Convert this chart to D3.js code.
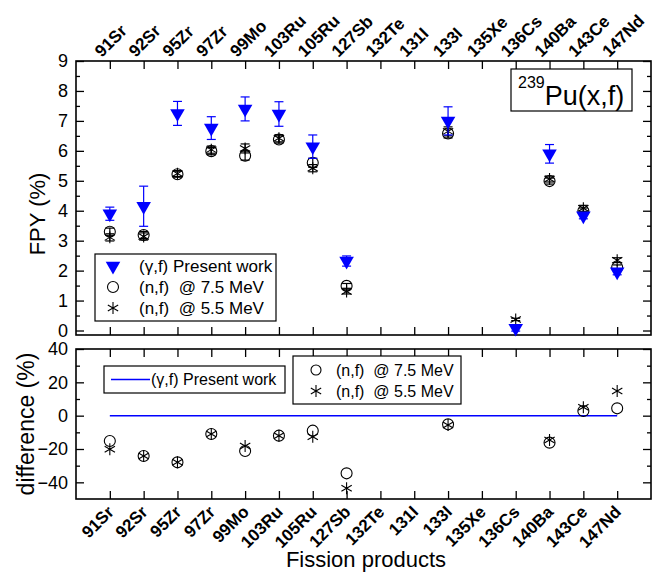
<!DOCTYPE html>
<html>
<head>
<meta charset="utf-8">
<script src="https://cdn.jsdelivr.net/npm/d3@7"></script>
<style>
  body { margin: 0; background: #fff; }
  svg { font-family: "Liberation Sans", Arial, sans-serif; }
</style>
</head>
<body>
<script>
// fission products on the x axis
var categories = ['91Sr', '92Sr', '95Zr', '97Zr', '99Mo', '103Ru', '105Ru', '127Sb',
  '132Te', '131I', '133I', '135Xe', '136Cs', '140Ba', '143Ce', '147Nd'];

// (gamma,f) present work, FPY (%) and error
var gammaFPY = [3.9, 4.15, 7.25, 6.76, 7.4, 7.23, 6.14, 2.32, null, null, 7.0, null, 0.08, 5.9, 3.83, 1.96];
var gammaErr = [0.22, 0.67, 0.4, 0.38, 0.4, 0.41, 0.39, 0.17, null, null, 0.47, null, 0.1, 0.31, 0.1, 0.1];

// (n,f) @ 7.5 MeV
var n75FPY = [3.3, 3.19, 5.22, 5.99, 5.84, 6.38, 5.6, 1.49, null, null, 6.58, null, null, 4.99, 3.99, 2.11];
var n75Err = [0.12, 0.12, 0.1, 0.12, 0.15, 0.12, 0.15, 0.08, null, null, 0.15, null, null, 0.1, 0.1, 0.08];
// (n,f) @ 5.5 MeV
var n55FPY = [3.11, 3.14, 5.24, 6.04, 6.08, 6.42, 5.42, 1.3, null, null, 6.65, null, 0.37, 5.06, 4.08, 2.35];
var n55Err = [0.12, 0.12, 0.1, 0.12, 0.15, 0.12, 0.12, 0.08, null, null, 0.15, null, 0.04, 0.1, 0.1, 0.08];

// difference (%) relative to present work
var n75Diff = [-15.2, -24.2, -28, -11, -21.2, -12, -9, -34.6, null, null, -5.2, null, null, -16.2, 2.8, 4.4];
var n55Diff = [-20.2, -24.2, -28, -11, -18.2, -12, -12.6, -43.6, null, null, -5.6, null, null, -14.6, 5, 14.8];

var fpyTicks = [0, 1, 2, 3, 4, 5, 6, 7, 8, 9];
var fpyMinor = [0.5, 1.5, 2.5, 3.5, 4.5, 5.5, 6.5, 7.5, 8.5];
var diffTicks = [-40, -20, 0, 20, 40];
var diffMinor = [-30, -10, 10, 30];

var width = 653, height = 574;
var left = 76, right = 651;
var topT = 61, topB = 335, botT = 349, botB = 499;
var blue = '#0000ff';

var svg = d3.select('body').append('svg')
  .attr('width', width)
  .attr('height', height);

var x = d3.scalePoint().domain(categories).range([left, right]).padding(1);
var yTop = d3.scaleLinear().domain([-0.15, 9]).range([topB, topT]);
var yBot = d3.scaleLinear().domain([-50, 40]).range([botB, botT]);

var tri = d3.symbol().type(d3.symbolTriangle).size(92);
var star = d3.symbol().type(d3.symbolAsterisk).size(100);

function noDomain(g) { g.select('.domain').remove(); }

function axes(y, yt, ym, yTopPx, yBotPx) {
  // left
  svg.append('g').attr('transform', 'translate(' + left + ',0)')
    .call(d3.axisLeft(y).tickValues(yt).tickSizeInner(-8).tickSizeOuter(0).tickPadding(8))
    .call(noDomain)
    .selectAll('text').style('font-size', '18px').attr('fill', '#000');
  svg.append('g').attr('transform', 'translate(' + left + ',0)')
    .call(d3.axisLeft(y).tickValues(ym).tickSizeInner(-4).tickSizeOuter(0).tickFormat(''))
    .call(noDomain);
  // right
  svg.append('g').attr('transform', 'translate(' + right + ',0)')
    .call(d3.axisRight(y).tickValues(yt).tickSizeInner(-8).tickSizeOuter(0).tickFormat(''))
    .call(noDomain);
  svg.append('g').attr('transform', 'translate(' + right + ',0)')
    .call(d3.axisRight(y).tickValues(ym).tickSizeInner(-4).tickSizeOuter(0).tickFormat(''))
    .call(noDomain);
  // top and bottom ticks
  svg.append('g').attr('transform', 'translate(0,' + yTopPx + ')')
    .call(d3.axisTop(x).tickSizeInner(-8).tickSizeOuter(0).tickFormat(''))
    .call(noDomain);
  svg.append('g').attr('transform', 'translate(0,' + yBotPx + ')')
    .call(d3.axisBottom(x).tickSizeInner(-8).tickSizeOuter(0).tickFormat(''))
    .call(noDomain);
  svg.append('rect')
    .attr('x', left).attr('y', yTopPx)
    .attr('width', right - left).attr('height', yBotPx - yTopPx)
    .attr('fill', 'none').attr('stroke', '#000').attr('stroke-width', 1.6);
}

axes(yTop, fpyTicks, fpyMinor, topT, topB);
axes(yBot, diffTicks, diffMinor, botT, botB);
svg.selectAll('.tick line').attr('stroke', '#000').attr('stroke-width', 1.3);

// rotated category labels, top and bottom
svg.append('g').selectAll('text').data(categories).enter().append('text')
  .attr('transform', function(d) { return 'translate(' + (x(d) - 8) + ',' + (topT - 3) + ') rotate(-45)'; })
  .attr('text-anchor', 'start')
  .style('font-size', '17px').style('font-weight', 'bold')
  .text(function(d) { return d; });

svg.append('g').selectAll('text').data(categories).enter().append('text')
  .attr('transform', function(d) { return 'translate(' + (x(d) + 5) + ',' + (botB + 14) + ') rotate(-45)'; })
  .attr('text-anchor', 'end')
  .style('font-size', '17px').style('font-weight', 'bold')
  .text(function(d) { return d; });

// ---- top panel data ----
function idx(arr) {
  return categories.map(function(c, i) { return i; }).filter(function(i) { return arr[i] != null; });
}

function errorBars(vals, errs, color) {
  var g = svg.append('g').attr('stroke', color).attr('stroke-width', 1.2).attr('fill', 'none');
  idx(vals).forEach(function(i) {
    var cx = x(categories[i]);
    var y1 = yTop(vals[i] + errs[i]), y0 = yTop(vals[i] - errs[i]);
    g.append('line').attr('x1', cx).attr('x2', cx).attr('y1', y1).attr('y2', y0);
    g.append('line').attr('x1', cx - 4.5).attr('x2', cx + 4.5).attr('y1', y1).attr('y2', y1);
    g.append('line').attr('x1', cx - 4.5).attr('x2', cx + 4.5).attr('y1', y0).attr('y2', y0);
  });
}

errorBars(n75FPY, n75Err, '#000');
errorBars(n55FPY, n55Err, '#000');

svg.append('g').selectAll('circle').data(idx(n75FPY)).enter().append('circle')
  .attr('cx', function(i) { return x(categories[i]); })
  .attr('cy', function(i) { return yTop(n75FPY[i]); })
  .attr('r', 5.5).attr('fill', 'none').attr('stroke', '#000').attr('stroke-width', 1.1);

svg.append('g').selectAll('path').data(idx(n55FPY)).enter().append('path')
  .attr('d', star)
  .attr('transform', function(i) { return 'translate(' + x(categories[i]) + ',' + yTop(n55FPY[i]) + ')'; })
  .attr('fill', 'none').attr('stroke', '#000').attr('stroke-width', 1.1);

errorBars(gammaFPY, gammaErr, blue);

svg.append('g').selectAll('path').data(idx(gammaFPY)).enter().append('path')
  .attr('d', tri)
  .attr('transform', function(i) { return 'translate(' + x(categories[i]) + ',' + yTop(gammaFPY[i]) + ') rotate(180)'; })
  .attr('fill', blue);

// ---- bottom panel data ----
svg.append('line')
  .attr('x1', x(categories[0])).attr('x2', x(categories[categories.length - 1]))
  .attr('y1', yBot(0)).attr('y2', yBot(0))
  .attr('stroke', blue).attr('stroke-width', 1.5);

svg.append('g').selectAll('circle').data(idx(n75Diff)).enter().append('circle')
  .attr('cx', function(i) { return x(categories[i]); })
  .attr('cy', function(i) { return yBot(n75Diff[i]); })
  .attr('r', 5.5).attr('fill', 'none').attr('stroke', '#000').attr('stroke-width', 1.1);

svg.append('g').selectAll('path').data(idx(n55Diff)).enter().append('path')
  .attr('d', star)
  .attr('transform', function(i) { return 'translate(' + x(categories[i]) + ',' + yBot(n55Diff[i]) + ')'; })
  .attr('fill', 'none').attr('stroke', '#000').attr('stroke-width', 1.1);

// ---- legends ----
var lg = svg.append('g');
lg.append('rect').attr('x', 95).attr('y', 254).attr('width', 181).attr('height', 67)
  .attr('fill', '#fff').attr('stroke', '#000').attr('stroke-width', 1.2);
lg.append('path').attr('d', tri).attr('transform', 'translate(113,266) rotate(180)').attr('fill', blue);
lg.append('circle').attr('cx', 113).attr('cy', 287).attr('r', 5.5)
  .attr('fill', 'none').attr('stroke', '#000').attr('stroke-width', 1.1);
lg.append('path').attr('d', star).attr('transform', 'translate(113,308)')
  .attr('fill', 'none').attr('stroke', '#000').attr('stroke-width', 1.1);
[['(γ,f) Present work', 266], ['(n,f)  @ 7.5 MeV', 287], ['(n,f)  @ 5.5 MeV', 308]].forEach(function(t) {
  lg.append('text').attr('x', 139).attr('y', t[1] + 6).style('font-size', '17px')
    .style('white-space', 'pre').attr('xml:space', 'preserve').text(t[0]);
});

var lb = svg.append('g');
lb.append('rect').attr('x', 104).attr('y', 366).attr('width', 181).attr('height', 27)
  .attr('fill', '#fff').attr('stroke', '#000').attr('stroke-width', 1.2);
lb.append('line').attr('x1', 111).attr('x2', 150).attr('y1', 379.5).attr('y2', 379.5)
  .attr('stroke', blue).attr('stroke-width', 1.5);
lb.append('text').attr('x', 151).attr('y', 385).style('font-size', '16px').text('(γ,f) Present work');

var lc = svg.append('g');
lc.append('rect').attr('x', 293).attr('y', 356).attr('width', 168).attr('height', 48)
  .attr('fill', '#fff').attr('stroke', '#000').attr('stroke-width', 1.2);
lc.append('circle').attr('cx', 316).attr('cy', 370).attr('r', 5)
  .attr('fill', 'none').attr('stroke', '#000').attr('stroke-width', 1.1);
lc.append('path').attr('d', star).attr('transform', 'translate(316,391)')
  .attr('fill', 'none').attr('stroke', '#000').attr('stroke-width', 1.1);
[['(n,f)  @ 7.5 MeV', 370], ['(n,f)  @ 5.5 MeV', 391]].forEach(function(t) {
  lc.append('text').attr('x', 336).attr('y', t[1] + 6).style('font-size', '16px')
    .style('white-space', 'pre').attr('xml:space', 'preserve').text(t[0]);
});

// reaction label
var lr = svg.append('g');
lr.append('rect').attr('x', 511).attr('y', 69).attr('width', 121).attr('height', 42)
  .attr('fill', '#fff').attr('stroke', '#000').attr('stroke-width', 1.2);
var t = lr.append('text').attr('x', 518).attr('y', 105);
t.append('tspan').attr('dy', -17).style('font-size', '16px').text('239');
t.append('tspan').attr('dy', 17).style('font-size', '27px').text('Pu(x,f)');

// axis titles
svg.append('text').attr('transform', 'translate(45,214) rotate(-90)')
  .attr('text-anchor', 'middle').style('font-size', '22px').text('FPY (%)');
svg.append('text').attr('transform', 'translate(34,424) rotate(-90)')
  .attr('text-anchor', 'middle').style('font-size', '23px').text('difference (%)');
svg.append('text').attr('x', 366).attr('y', 567)
  .attr('text-anchor', 'middle').style('font-size', '22px').text('Fission products');
</script>
</body>
</html>
